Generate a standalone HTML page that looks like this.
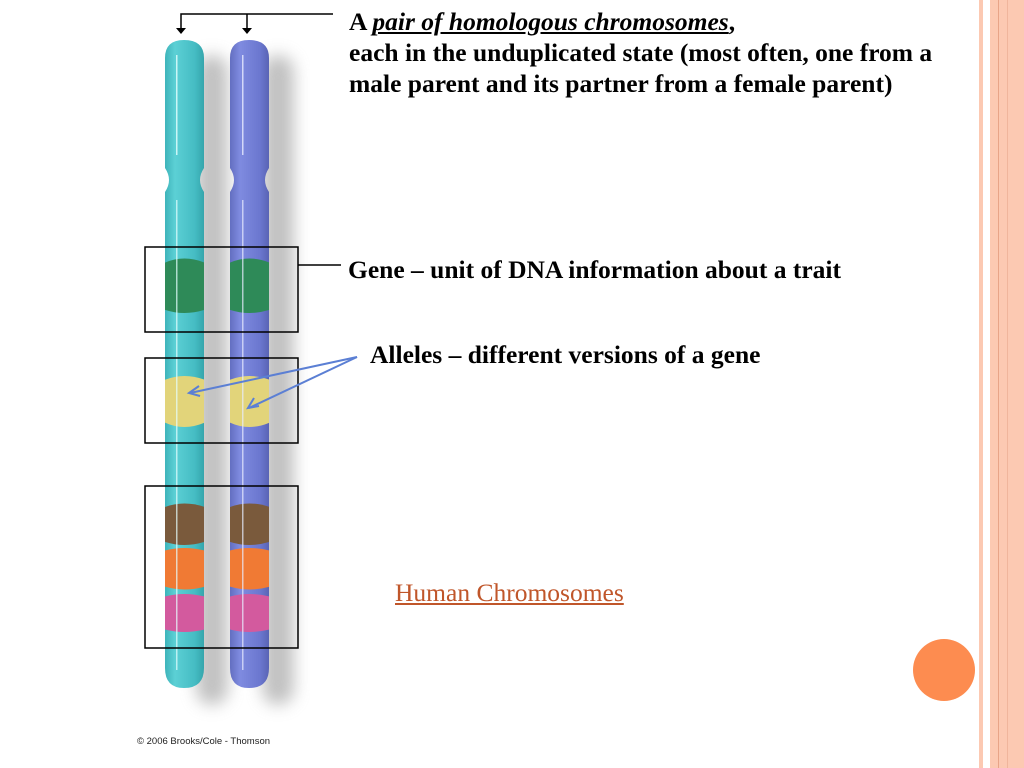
<!DOCTYPE html>
<html><head><meta charset="utf-8"><style>
body{margin:0;width:1024px;height:768px;background:#fff;position:relative;overflow:hidden;font-family:"Liberation Serif",serif}
.t{position:absolute;font-weight:bold;font-size:25.5px;line-height:31px;color:#000;white-space:nowrap;font-family:"Liberation Serif",serif}
</style></head><body>
<svg width="1024" height="768" style="position:absolute;left:0;top:0">
<defs>
<linearGradient id="tg" x1="0" x2="1"><stop offset="0" stop-color="#2fa6ad"/><stop offset="0.3" stop-color="#5cd0d5"/><stop offset="0.7" stop-color="#45bcc3"/><stop offset="1" stop-color="#2a969c"/></linearGradient>
<linearGradient id="pg" x1="0" x2="1"><stop offset="0" stop-color="#5560b0"/><stop offset="0.3" stop-color="#7f8be0"/><stop offset="0.7" stop-color="#6b77cf"/><stop offset="1" stop-color="#4d57a3"/></linearGradient>
<filter id="bl" x="-50%" y="-10%" width="200%" height="120%"><feGaussianBlur stdDeviation="8"/></filter>
<clipPath id="c1"><path d="M165,58 Q165,40 184,40 Q204,40 204,58 L204,168 Q196,180 204,192 L204,668 Q204,688 184,688 Q165,688 165,668 L165,192 Q173,180 165,168Z"/></clipPath>
<clipPath id="c2"><path d="M230,58 Q230,40 249,40 Q269,40 269,58 L269,168 Q261,180 269,192 L269,668 Q269,688 249,688 Q230,688 230,668 L230,192 Q238,180 230,168Z"/></clipPath>
</defs>
<rect x="979" y="0" width="4" height="768" fill="#fcc9b2"/>
<rect x="990" y="0" width="34" height="768" fill="#fcc9b2"/>
<rect x="998" y="0" width="1" height="768" fill="#e8a488"/>
<rect x="1007" y="0" width="1" height="768" fill="#f0b59c"/>
<rect x="196" y="55" width="32" height="650" rx="16" fill="#999" filter="url(#bl)" opacity="0.6"/>
<rect x="262" y="55" width="32" height="650" rx="16" fill="#999" filter="url(#bl)" opacity="0.6"/>
<g clip-path="url(#c1)">
<rect x="160" y="30" width="50" height="670" fill="url(#tg)"/>
<path d="M160,265 Q184,252 210,265 L210,308 Q184,318 160,308Z" fill="#2e8a58"/>
<path d="M160,382 Q184,370 210,382 L210,420 Q184,434 160,420Z" fill="#e2d47a"/>
<path d="M160,509 Q184,498 210,509 L210,540 Q184,550 160,540Z" fill="#7a5a3c"/>
<path d="M160,552 Q184,544 210,552 L210,585 Q184,594 160,585Z" fill="#f07a34"/>
<path d="M160,598 Q184,590 210,598 L210,628 Q184,636 160,628Z" fill="#d35a9e"/>
<rect x="176" y="55" width="1.5" height="100" fill="#e6ffff" opacity="0.8"/>
<rect x="176" y="200" width="1.5" height="470" fill="#e6ffff" opacity="0.7"/>
</g>
<g clip-path="url(#c2)">
<rect x="225" y="30" width="50" height="670" fill="url(#pg)"/>
<path d="M225,265 Q249,252 275,265 L275,308 Q249,318 225,308Z" fill="#2e8a58"/>
<path d="M225,382 Q249,370 275,382 L275,420 Q249,434 225,420Z" fill="#e2d47a"/>
<path d="M225,509 Q249,498 275,509 L275,540 Q249,550 225,540Z" fill="#7a5a3c"/>
<path d="M225,552 Q249,544 275,552 L275,585 Q249,594 225,585Z" fill="#f07a34"/>
<path d="M225,598 Q249,590 275,598 L275,628 Q249,636 225,628Z" fill="#d35a9e"/>
<rect x="242" y="55" width="1.5" height="100" fill="#e8ecff" opacity="0.8"/>
<rect x="242" y="200" width="1.5" height="470" fill="#e8ecff" opacity="0.7"/>
</g>
<g fill="none" stroke="#000" stroke-width="1.5">
<rect x="145" y="247" width="153" height="85"/>
<rect x="145" y="358" width="153" height="85"/>
<rect x="145" y="486" width="153" height="162"/>
<polyline points="181,30 181,14 333,14"/>
<line x1="247" y1="14" x2="247" y2="30"/>
<line x1="298" y1="265" x2="341" y2="265"/>
</g>
<polygon points="176,28 186,28 181,34" fill="#000"/>
<polygon points="242,28 252,28 247,34" fill="#000"/>
<g stroke="#5b7fd4" stroke-width="2" fill="none">
<line x1="357" y1="357" x2="190" y2="393"/>
<line x1="357" y1="357" x2="249" y2="408"/>
<polyline points="199,386 189,393 200,396"/>
<polyline points="254,398 248,408 259,406"/>
</g>
<circle cx="944" cy="670" r="31" fill="#fd8c50"/>
<text x="137" y="744" font-family="Liberation Sans, sans-serif" font-size="9.5" fill="#222">© 2006 Brooks/Cole - Thomson</text>
</svg>
<div class="t" style="left:349px;top:6px">A <i><u>pair of homologous chromosomes</u></i>,<br>each in the unduplicated state (most often, one from a<br>male parent and its partner from a female parent)</div>
<div class="t" style="left:348px;top:254px">Gene – unit of DNA information about a trait</div>
<div class="t" style="left:370px;top:339px">Alleles – different versions of a gene</div>
<div style="position:absolute;left:395px;top:578px;font-size:25.5px;color:#c0562a;text-decoration:underline;font-family:'Liberation Serif',serif">Human Chromosomes</div>
</body></html>
